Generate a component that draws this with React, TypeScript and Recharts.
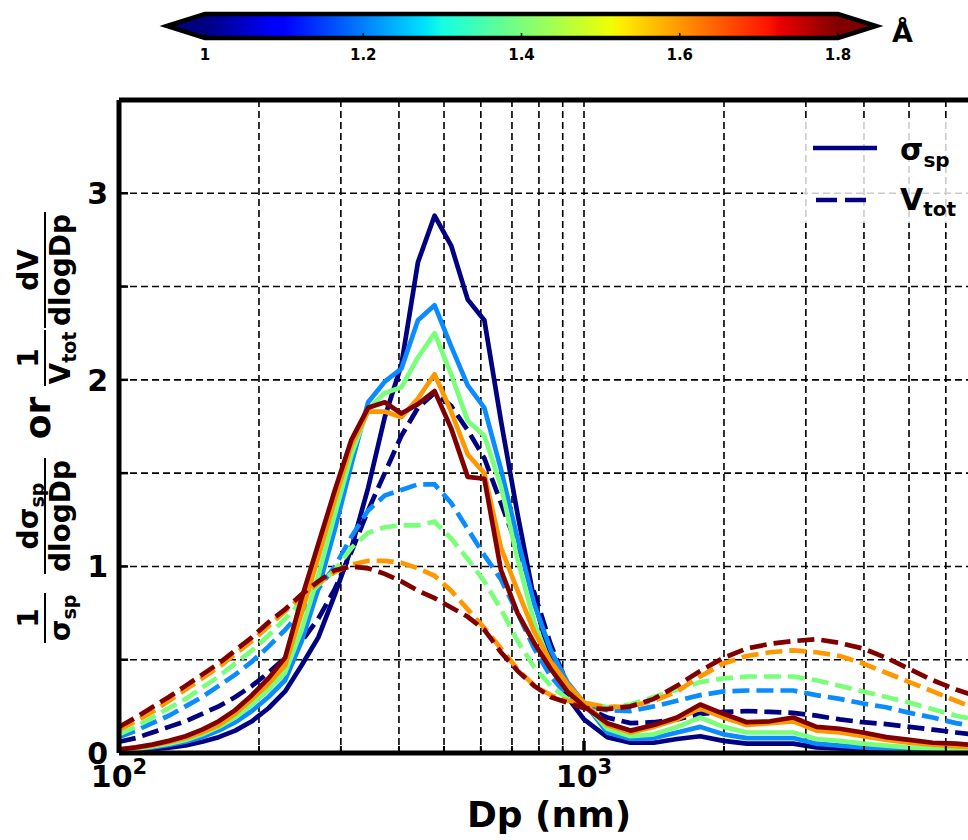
import React from "react";
import { LineChart, Line, XAxis, YAxis, CartesianGrid, ReferenceLine } from "recharts";

const FONT = "'DejaVu Sans', sans-serif";

// particle diameter bins (nm)
const DP = [
  100, 108.6, 117.9, 128, 139, 150.9, 163.8, 177.8, 193.1, 209.6, 227.6, 247.1, 268.3, 291.3, 316.2,
  343.3, 372.8, 404.8, 439.4, 477.1, 518, 562.3, 610.5, 662.9, 719.7, 781.4, 848.3, 921.1, 1000,
  1122, 1259, 1413, 1585, 1778, 1995, 2239, 2512, 2818, 3162, 3548, 3981, 4467, 5012, 5623, 6310, 7079,
];

// normalised scattering distributions (solid)
const SIG_10 = [
  0.01, 0.014, 0.02, 0.028, 0.04, 0.06, 0.085, 0.12, 0.17, 0.24, 0.33, 0.47, 0.62, 0.85, 1.1,
  1.42, 1.8, 2.08, 2.63, 2.88, 2.72, 2.43, 2.32, 1.78, 1.28, 0.82, 0.5, 0.3, 0.18,
  0.085, 0.055, 0.055, 0.075, 0.09, 0.065, 0.05, 0.05, 0.05, 0.03, 0.025, 0.02, 0.015, 0.01, 0.01, 0.008, 0.005,
];
const SIG_12 = [
  0.012, 0.02, 0.03, 0.043, 0.06, 0.085, 0.12, 0.165, 0.225, 0.3, 0.39, 0.6, 0.88, 1.2, 1.55,
  1.88, 1.99, 2.06, 2.32, 2.4, 2.18, 1.97, 1.85, 1.52, 1.15, 0.8, 0.55, 0.38, 0.27,
  0.11, 0.075, 0.08, 0.11, 0.14, 0.1, 0.08, 0.08, 0.08, 0.05, 0.04, 0.03, 0.025, 0.02, 0.015, 0.01, 0.01,
];
const SIG_14 = [
  0.015, 0.023, 0.035, 0.05, 0.07, 0.1, 0.14, 0.19, 0.26, 0.34, 0.43, 0.66, 0.95, 1.28, 1.6,
  1.84, 1.93, 1.96, 2.12, 2.25, 2.03, 1.78, 1.7, 1.43, 1.04, 0.7, 0.47, 0.35, 0.27,
  0.13, 0.09, 0.1, 0.14, 0.19, 0.14, 0.11, 0.11, 0.11, 0.075, 0.065, 0.05, 0.04, 0.03, 0.025, 0.02, 0.015,
];
const SIG_16 = [
  0.018, 0.027, 0.04, 0.058, 0.08, 0.11, 0.15, 0.21, 0.29, 0.37, 0.47, 0.75, 1.05, 1.36, 1.65,
  1.83, 1.83, 1.8, 1.9, 2.03, 1.83, 1.6, 1.5, 1.1, 0.87, 0.65, 0.49, 0.37, 0.27,
  0.15, 0.11, 0.14, 0.18, 0.24, 0.19, 0.15, 0.16, 0.17, 0.12, 0.11, 0.09, 0.07, 0.055, 0.045, 0.035, 0.03,
];
const SIG_18 = [
  0.02, 0.03, 0.045, 0.065, 0.09, 0.125, 0.17, 0.23, 0.31, 0.4, 0.51, 0.83, 1.12, 1.41, 1.68,
  1.85, 1.88, 1.82, 1.87, 1.94, 1.74, 1.48, 1.47, 0.98, 0.75, 0.59, 0.45, 0.33, 0.25,
  0.16, 0.12, 0.15, 0.19, 0.26, 0.21, 0.165, 0.17, 0.19, 0.14, 0.13, 0.11, 0.085, 0.07, 0.055, 0.05, 0.04,
];

// normalised volume distributions (dashed)
const VOL_10 = [
  0.06, 0.08, 0.11, 0.14, 0.17, 0.21, 0.25, 0.3, 0.36, 0.43, 0.51, 0.6, 0.72, 0.88, 1.08,
  1.3, 1.5, 1.7, 1.85, 1.93, 1.86, 1.73, 1.58, 1.34, 1.1, 0.86, 0.58, 0.37, 0.25,
  0.19, 0.16, 0.165, 0.18, 0.21, 0.22, 0.225, 0.22, 0.215, 0.2, 0.18, 0.165, 0.155, 0.14, 0.125, 0.11, 0.095,
];
const VOL_12 = [
  0.085, 0.12, 0.16, 0.2, 0.25, 0.3, 0.36, 0.42, 0.49, 0.57, 0.66, 0.76, 0.88, 1.0, 1.16,
  1.3, 1.38, 1.41, 1.44, 1.44, 1.34, 1.2, 1.06, 0.93, 0.75, 0.56, 0.41, 0.31, 0.26,
  0.23, 0.225, 0.25, 0.28, 0.31, 0.33, 0.335, 0.335, 0.335, 0.31, 0.29, 0.265, 0.245, 0.215, 0.19, 0.16, 0.14,
];
const VOL_14 = [
  0.1, 0.14, 0.19, 0.24, 0.29, 0.35, 0.41, 0.48, 0.55, 0.63, 0.72, 0.81, 0.9, 0.98, 1.1,
  1.18, 1.21, 1.22, 1.22, 1.24, 1.15, 1.04, 0.92, 0.77, 0.6, 0.46, 0.36, 0.29, 0.27,
  0.245, 0.26, 0.3, 0.34, 0.38, 0.4, 0.41, 0.41, 0.41, 0.39, 0.36, 0.33, 0.3, 0.27, 0.235, 0.2, 0.175,
];
const VOL_16 = [
  0.125, 0.17, 0.22, 0.28, 0.34, 0.4, 0.46, 0.53, 0.6, 0.68, 0.76, 0.84, 0.91, 0.97, 1.01,
  1.03, 1.03, 1.02, 0.99, 0.95, 0.87, 0.77, 0.67, 0.56, 0.45, 0.36, 0.31, 0.28, 0.27,
  0.245, 0.25, 0.28, 0.33, 0.41, 0.48, 0.52, 0.54, 0.55, 0.54, 0.52, 0.48, 0.43, 0.38, 0.33, 0.28, 0.23,
];
const VOL_18 = [
  0.14, 0.19, 0.245, 0.3, 0.36, 0.42, 0.48, 0.55, 0.62, 0.7, 0.77, 0.85, 0.92, 0.98, 1.0,
  0.99, 0.96, 0.92, 0.87, 0.83, 0.78, 0.73, 0.66, 0.54, 0.44, 0.36, 0.3, 0.27, 0.24,
  0.235, 0.25, 0.29, 0.36, 0.44, 0.51, 0.56, 0.585, 0.6, 0.61, 0.59, 0.56, 0.51, 0.45, 0.39, 0.34, 0.3,
];

const SERIES = [
  { ang: 1.0, color: "#000080", sig: SIG_10, vol: VOL_10 },
  { ang: 1.2, color: "#0a8cff", sig: SIG_12, vol: VOL_12 },
  { ang: 1.4, color: "#7aff7a", sig: SIG_14, vol: VOL_14 },
  { ang: 1.6, color: "#ff9700", sig: SIG_16, vol: VOL_16 },
  { ang: 1.8, color: "#800000", sig: SIG_18, vol: VOL_18 },
];

const X_TICKS = [
  100, 200, 300, 400, 500, 600, 700, 800, 900,
  1000, 2000, 3000, 4000, 5000, 6000, 7000, 8000, 9000, 10000,
];
const X_LABELED = [100, 1000];
const Y_TICKS = [0, 0.5, 1, 1.5, 2, 2.5, 3, 3.5];
const CBAR_TICKS = [1, 1.2, 1.4, 1.6, 1.8];

// matplotlib "jet"
const JET: [number, string][] = [
  [0, "#000080"], [0.11, "#0000ff"], [0.125, "#0000ff"], [0.34, "#00dbff"], [0.35, "#00e6f7"],
  [0.375, "#14ffe2"], [0.5, "#7aff7a"], [0.64, "#eeff04"], [0.66, "#ffec00"],
  [0.89, "#ff1300"], [0.91, "#e80000"], [1, "#800000"],
];

const rows = DP.map((dp, i) => {
  const r: Record<string, number> = { dp };
  SERIES.forEach((s, j) => {
    r[`s${j}`] = s.sig[i];
    r[`v${j}`] = s.vol[i];
  });
  return r;
});

const TXT = { fontFamily: FONT, fontWeight: "bold" as const, fill: "#000" };

function XTick(props: any) {
  const { x, y, payload } = props;
  const v = payload.value as number;
  const exp = Math.round(Math.log10(v));
  const major = Math.abs(Math.pow(10, exp) - v) < 1e-6;
  return (
    <g>
      <line x1={x} x2={x} y1={y} y2={y - (major ? 12 : 7)} stroke="#000" strokeWidth={major ? 3.5 : 2} />
      {X_LABELED.includes(v) && (
        <text x={x} y={y + 34} textAnchor="middle" fontSize={30} {...TXT}>
          <tspan>10</tspan>
          <tspan dy={-13} fontSize={21}>{exp}</tspan>
        </text>
      )}
    </g>
  );
}

function YTick(props: any) {
  const { x, y, payload } = props;
  const v = payload.value as number;
  return (
    <g>
      <line x1={x} x2={x + 9} y1={y} y2={y} stroke="#000" strokeWidth={2.5} />
      {Number.isInteger(v) && (
        <text x={x - 11} y={y + 11} textAnchor="end" fontSize={30} {...TXT}>
          {v}
        </text>
      )}
    </g>
  );
}

function Frac({ u, w, num, den }: { u: number; w: number; num: React.ReactNode; den: React.ReactNode }) {
  return (
    <g>
      <text x={u} y={-7} textAnchor="middle" fontSize={28}>{num}</text>
      <line x1={u - w / 2} x2={u + w / 2} y1={0} y2={0} stroke="#000" strokeWidth={2} />
      <text x={u} y={25} textAnchor="middle" fontSize={28}>{den}</text>
    </g>
  );
}

function YLabel() {
  const sub = (s: string) => <tspan fontSize={19} dy={6}>{s}</tspan>;
  return (
    <g transform="translate(45,430) rotate(-90)" {...TXT}>
      <Frac u={-188} w={50} num="1" den={<><tspan>σ</tspan>{sub("sp")}</>} />
      <Frac u={-86} w={116} num={<><tspan>dσ</tspan>{sub("sp")}</>} den="dlogDp" />
      <text x={12} y={5} textAnchor="middle" fontSize={36}>or</text>
      <Frac u={72} w={56} num="1" den={<><tspan>V</tspan>{sub("tot")}</>} />
      <Frac u={160} w={116} num="dV" den="dlogDp" />
    </g>
  );
}

function ColorBar() {
  const x0 = 205, x1 = 838, top = 14, bot = 38, mid = 26, tipL = 167, tipR = 876;
  const toX = (v: number) => x0 + ((v - 1) / 0.8) * (x1 - x0);
  return (
    <g>
      <defs>
        <linearGradient id="jet" x1="0" x2="1" y1="0" y2="0">
          {JET.map(([o, c]) => <stop key={o} offset={o} stopColor={c} />)}
        </linearGradient>
      </defs>
      <polygon points={`${tipL},${mid} ${x0},${top} ${x0},${bot}`} fill="#000080" />
      <polygon points={`${tipR},${mid} ${x1},${top} ${x1},${bot}`} fill="#800000" />
      <rect x={x0} y={top} width={x1 - x0} height={bot - top} fill="url(#jet)" />
      <polygon
        points={`${tipL},${mid} ${x0},${top} ${x1},${top} ${tipR},${mid} ${x1},${bot} ${x0},${bot}`}
        fill="none" stroke="#000" strokeWidth={4.5}
      />
      {CBAR_TICKS.map((v) => (
        <g key={v}>
          <line x1={toX(v)} x2={toX(v)} y1={bot} y2={bot - 5} stroke="#000" strokeWidth={1.5} />
          <text x={toX(v)} y={60} textAnchor="middle" fontSize={15} {...TXT}>{v}</text>
        </g>
      ))}
      <text x={892} y={42} fontSize={27} {...TXT}>Å</text>
    </g>
  );
}

function LegendBox() {
  return (
    <g>
      <rect x={803} y={118} width={170} height={105} fill="#fff" fillOpacity={0.8} />
      <line x1={813} x2={877} y1={148} y2={148} stroke="#000080" strokeWidth={4.5} />
      <line x1={816} x2={866} y1={200} y2={200} stroke="#000080" strokeWidth={4.5} strokeDasharray="21 8" />
      <text x={900} y={160} fontSize={30} {...TXT}>
        <tspan>σ</tspan>
        <tspan fontSize={20} dy={7}>sp</tspan>
      </text>
      <text x={900} y={210} fontSize={30} {...TXT}>
        <tspan>V</tspan>
        <tspan fontSize={20} dy={6}>tot</tspan>
      </text>
    </g>
  );
}

export default function App() {
  return (
    <div style={{ position: "fixed", left: 0, top: 0, width: 968, height: 840, overflow: "hidden", background: "#fff" }}>
      <div style={{ position: "absolute", left: 0, top: 0 }}>
        <LineChart width={1049} height={840} data={rows} margin={{ top: 100, right: 0, bottom: 0, left: 0 }}>
          <CartesianGrid stroke="#000" strokeDasharray="7 4" strokeWidth={1.6} />
          <XAxis
            dataKey="dp"
            type="number"
            scale="log"
            domain={[100, 10000]}
            ticks={X_TICKS}
            interval={0}
            height={87}
            tickLine={false}
            tickSize={0}
            tickMargin={0}
            tick={(p: any) => <XTick {...p} />}
            axisLine={{ stroke: "#000", strokeWidth: 5 }}
            allowDataOverflow
          />
          <YAxis
            type="number"
            domain={[0, 3.5]}
            ticks={Y_TICKS}
            interval={0}
            width={119}
            tickLine={false}
            tickSize={0}
            tickMargin={0}
            tick={(p: any) => <YTick {...p} />}
            axisLine={{ stroke: "#000", strokeWidth: 5 }}
            allowDataOverflow
          />
          <ReferenceLine y={3.5} stroke="#000" strokeWidth={5} />
          {SERIES.flatMap((s, j) => [
            <Line
              key={`s${j}`}
              dataKey={`s${j}`}
              type="linear"
              stroke={s.color}
              strokeWidth={4.7}
              strokeLinejoin="round"
              dot={false}
              activeDot={false}
              isAnimationActive={false}
            />,
            <Line
              key={`v${j}`}
              dataKey={`v${j}`}
              type="linear"
              stroke={s.color}
              strokeWidth={4.7}
              strokeDasharray="17 7"
              dot={false}
              activeDot={false}
              isAnimationActive={false}
            />,
          ])}
        </LineChart>
      </div>
      <svg width={968} height={840} style={{ position: "absolute", left: 0, top: 0, pointerEvents: "none" }}>
        <ColorBar />
        <YLabel />
        <LegendBox />
        <text x={549} y={827} textAnchor="middle" fontSize={36} {...TXT}>Dp (nm)</text>
      </svg>
    </div>
  );
}
